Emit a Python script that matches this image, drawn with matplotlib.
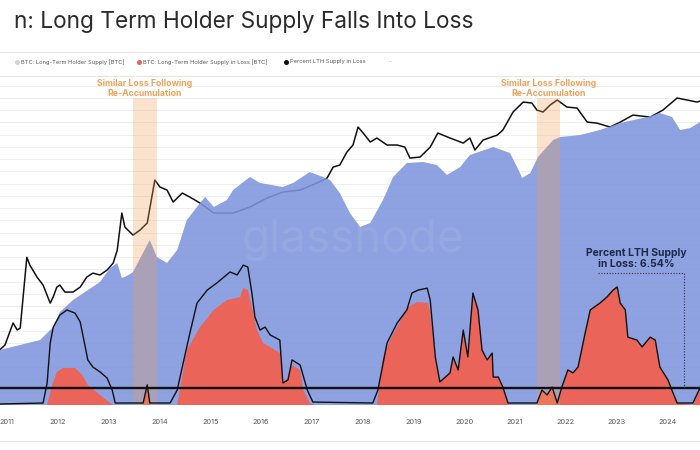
import matplotlib

matplotlib.use("Agg")
import matplotlib.pyplot as plt
import matplotlib.transforms as mtransforms
from matplotlib.lines import Line2D
from matplotlib.ticker import MultipleLocator, NullLocator

W, H = 700, 450
plt.rcParams["font.family"] = ["Inter", "DejaVu Sans"]

# BTC price (log axis, USD)
price_t = [2010.86, 2010.96, 2011.12, 2011.20, 2011.26, 2011.39, 2011.45, 2011.59, 2011.71, 2011.85,
           2011.91, 2011.98, 2012.04, 2012.14, 2012.30, 2012.44, 2012.57, 2012.69, 2012.83, 2012.97,
           2013.09, 2013.17, 2013.26, 2013.32, 2013.48, 2013.62, 2013.76, 2013.85, 2013.91, 2014.01,
           2014.15, 2014.27, 2014.45, 2014.60, 2014.80, 2015.07, 2015.45, 2015.78, 2016.12, 2016.43,
           2016.77, 2017.10, 2017.30, 2017.42, 2017.55, 2017.69, 2017.81, 2017.91, 2018.01, 2018.15,
           2018.28, 2018.48, 2018.68, 2018.83, 2018.93, 2019.13, 2019.33, 2019.48, 2019.72, 2019.98,
           2020.11, 2020.21, 2020.37, 2020.65, 2020.76, 2020.96, 2021.16, 2021.33, 2021.43, 2021.55,
           2021.69, 2021.83, 2022.02, 2022.22, 2022.42, 2022.61, 2022.87, 2023.07, 2023.32, 2023.66,
           2023.91, 2024.19, 2024.39, 2024.58, 2024.64]
price_usd = [0.27, 0.34, 1.0, 0.71, 0.78, 25, 17, 9.5, 6.4, 2.65,
             3.6, 5.8, 6.4, 4.55, 4.55, 5.8, 9.5, 11.5, 10.5, 13.4,
             18.8, 35.6, 218, 110, 74, 95, 134, 477, 1100, 780,
             673, 374, 581, 477, 356, 218, 218, 293, 455, 611,
             673, 948, 1213, 2080, 2290, 4335, 6110, 14750, 11000, 7080,
             8610, 6110, 6110, 5530, 3230, 3390, 5530, 11000, 8610, 6730,
             8610, 4780, 7800, 9960, 12730, 30750, 50200, 47800, 33900, 30750,
             43400, 55300, 39300, 37400, 18800, 17900, 14750, 18800, 26500, 24000,
             33900, 61100, 55300, 50200, 52500]

# Long-term holder supply (million BTC)
supply_t = [2010.86, 2011.65, 2011.91, 2012.04, 2012.30, 2012.83, 2013.03, 2013.17, 2013.26, 2013.36,
            2013.48, 2013.81, 2013.95, 2014.15, 2014.35, 2014.54, 2014.80, 2014.90, 2015.07, 2015.33,
            2015.45, 2015.78, 2015.98, 2016.43, 2016.63, 2016.96, 2017.22, 2017.36, 2017.55, 2017.75,
            2017.95, 2018.15, 2018.40, 2018.60, 2018.87, 2019.19, 2019.46, 2019.66, 2019.92, 2020.11,
            2020.57, 2020.90, 2021.04, 2021.14, 2021.30, 2021.45, 2021.75, 2021.89, 2022.28, 2022.67,
            2023.07, 2023.60, 2023.85, 2024.09, 2024.25, 2024.45, 2024.64]
supply_mbtc = [2.75, 3.25, 3.9, 4.65, 5.25, 6.15, 6.85, 7.1, 6.35, 6.45,
               6.65, 8.25, 7.4, 7.1, 7.75, 9.25, 10.1, 10.4, 9.9, 10.25,
               10.75, 11.4, 11.1, 10.9, 11.1, 11.65, 11.4, 11.25, 10.6, 9.6,
               8.9, 9.1, 10.25, 11.4, 12.1, 12.15, 12.0, 11.5, 11.9, 12.5,
               12.9, 12.6, 11.9, 11.35, 11.6, 12.4, 13.25, 13.4, 13.5, 13.75,
               14.1, 14.4, 14.6, 14.4, 13.75, 13.85, 14.15]

# Long-term holder supply in loss (million BTC)
loss_t = [2010.86, 2011.79, 2011.89, 2011.98, 2012.10, 2012.34, 2012.48, 2012.59, 2012.83, 2013.03,
          2013.09, 2013.68, 2013.76, 2013.81, 2014.35, 2014.54, 2014.80, 2015.07, 2015.33, 2015.59,
          2015.65, 2015.74, 2015.82, 2015.92, 2016.04, 2016.18, 2016.37, 2016.43, 2016.53, 2016.61,
          2016.77, 2016.83, 2016.96, 2017.06, 2018.28, 2018.40, 2018.54, 2018.68, 2018.87, 2019.07,
          2019.29, 2019.33, 2019.43, 2019.52, 2019.72, 2019.78, 2019.88, 2019.98, 2020.07, 2020.17,
          2020.27, 2020.35, 2020.45, 2020.55, 2020.57, 2020.67, 2020.76, 2020.86, 2020.90, 2021.43,
          2021.53, 2021.63, 2021.73, 2021.83, 2021.92, 2022.04, 2022.14, 2022.24, 2022.38, 2022.48,
          2022.67, 2022.81, 2022.93, 2023.01, 2023.07, 2023.17, 2023.22, 2023.40, 2023.50, 2023.66,
          2023.76, 2023.85, 2024.01, 2024.11, 2024.19, 2024.50, 2024.64]
loss_mbtc = [0, 0, 1.0, 1.65, 1.85, 1.85, 1.5, 1.0, 0.5, 0.1,
             0, 0, 1.0, 0, 0, 2.75, 3.9, 4.75, 5.25, 5.4,
             5.85, 5.75, 4.9, 3.75, 3.1, 2.9, 2.6, 1.1, 1.4, 2.0,
             1.75, 0.75, 0.1, 0, 0, 2.4, 3.25, 3.9, 4.85, 5.15,
             5.1, 4.6, 2.25, 1.15, 1.6, 2.4, 1.75, 3.75, 2.4, 5.6,
             4.75, 2.75, 2.25, 2.6, 1.4, 1.4, 0.9, 0.1, 0, 0,
             0.75, 0.5, 0.9, 0.1, 0.9, 1.75, 1.6, 1.9, 3.6, 4.75,
             5.1, 5.4, 5.75, 5.85, 5.1, 4.75, 3.4, 3.25, 2.9, 3.4,
             3.25, 1.9, 1.25, 0.6, 0.1, 0, 0.75]

# Percent of LTH supply in loss (%)
pct_t = [2010.86, 2011.71, 2011.79, 2011.85, 2011.91, 2012.04, 2012.18, 2012.34, 2012.44, 2012.54,
         2012.59, 2012.69, 2012.83, 2012.97, 2013.07, 2013.13, 2013.68, 2013.76, 2013.81, 2014.21,
         2014.35, 2014.45, 2014.60, 2014.74, 2014.94, 2015.13, 2015.39, 2015.53, 2015.65, 2015.74,
         2015.82, 2015.88, 2015.98, 2016.08, 2016.18, 2016.37, 2016.43, 2016.53, 2016.61, 2016.77,
         2016.91, 2017.02, 2018.20, 2018.30, 2018.48, 2018.68, 2018.87, 2018.97, 2019.09, 2019.27,
         2019.33, 2019.43, 2019.52, 2019.72, 2019.78, 2019.88, 2019.98, 2020.07, 2020.17, 2020.27,
         2020.35, 2020.45, 2020.55, 2020.57, 2020.67, 2020.76, 2020.86, 2021.43, 2021.53, 2021.63,
         2021.73, 2021.83, 2021.92, 2022.04, 2022.14, 2022.24, 2022.38, 2022.48, 2022.67, 2022.81,
         2022.93, 2023.01, 2023.07, 2023.17, 2023.22, 2023.40, 2023.50, 2023.66, 2023.76, 2023.85,
         2024.01, 2024.11, 2024.19, 2024.50, 2024.64]
pct_loss = [0, 0.4, 8.6, 24.9, 31.4, 36.3, 38.4, 37.1, 33.5, 23.3,
            18.0, 15.1, 13.1, 10.6, 5.7, 0.4, 0.4, 7.8, 0.4, 0.4,
            5.7, 15.1, 29.0, 41.2, 46.5, 49.4, 53.9, 52.7, 56.7, 55.9,
            45.3, 35.5, 30.2, 31.4, 28.2, 26.1, 8.6, 9.8, 18.0, 15.9,
            5.7, 0.8, 0.4, 5.7, 24.9, 33.1, 38.4, 45.3, 46.5, 47.3,
            42.4, 19.2, 9.0, 12.7, 19.2, 13.9, 30.2, 19.2, 45.3, 38.4,
            22.0, 18.0, 20.8, 11.0, 11.0, 6.9, 0.4, 0.4, 5.7, 3.7,
            6.9, 0.4, 6.9, 13.9, 12.7, 15.1, 29.0, 38.4, 41.2, 43.7,
            46.5, 47.8, 41.2, 38.4, 27.3, 26.1, 23.3, 27.3, 26.1, 15.1,
            9.8, 4.5, 0.4, 0.4, 6.5]

current_pct = 6.54
band_start = [2013.48, 2021.43]
band_end = [2013.95, 2021.89]
years = list(range(2011, 2025))

BLUE = "#7f94dc"
RED = "#eb645a"
ORANGE = "#f0a25a"
NAVY = "#1e2a4a"


def fx(px):
    return px / W


def fy(py):
    return 1 - py / H


def main():
    fig = plt.figure(figsize=(W / 100, H / 100), dpi=100)
    rect = [0, fy(405), 1, (405 - 78) / H]

    ax_grid = fig.add_axes(rect, zorder=0)
    ax_price = fig.add_axes(rect, zorder=1, sharex=ax_grid)
    ax_sup = fig.add_axes(rect, zorder=2, sharex=ax_grid)
    ax_pct = fig.add_axes(rect, zorder=3, sharex=ax_grid)

    for a in (ax_grid, ax_price, ax_sup, ax_pct):
        for s in a.spines.values():
            s.set_visible(False)
        a.tick_params(which="both", left=False, labelleft=False, bottom=False,
                      labelbottom=False)
    for a in (ax_price, ax_sup, ax_pct):
        a.patch.set_alpha(0)

    ax_grid.set_xlim(2010.862, 2024.64)
    ax_grid.set_ylim(-0.41, 133.1)
    ax_grid.yaxis.set_major_locator(MultipleLocator(5))
    ax_grid.grid(axis="y", color="#ececec", lw=0.6)
    ax_grid.set_xticks(years)
    ax_grid.set_xticklabels([str(y) for y in years])
    ax_grid.tick_params(labelbottom=True, pad=6.5, labelsize=5.3, labelcolor="#555555")

    # price line sits beneath the supply fill
    ax_price.set_yscale("log")
    ax_price.set_ylim(0.018, 1.63e5)
    ax_price.yaxis.set_minor_locator(NullLocator())
    ax_price.plot(price_t, price_usd, color="#111111", lw=1.1)

    ax_sup.set_ylim(0, 16.35)
    ax_sup.fill_between(supply_t, supply_mbtc, 0, color=BLUE, alpha=0.88, lw=0)
    ax_sup.fill_between(loss_t, loss_mbtc, 0, color=RED, lw=0)
    for a, b in zip(band_start, band_end):
        ax_sup.axvspan(a, b, ymin=0, ymax=0.94, color=ORANGE, alpha=0.3, lw=0)
    ax_sup.text(0.504, 0.505, "glassnode", transform=ax_sup.transAxes, ha="center",
                va="center", fontsize=33, color="white", alpha=0.08)

    ax_pct.set_ylim(-0.41, 133.1)
    ax_pct.plot(pct_t, pct_loss, color="#111111", lw=1.0)
    ax_pct.axhline(current_pct, color="#111111", lw=1.7)
    ax_pct.plot([2022.63, 2024.33, 2024.33], [53.5, 53.5, current_pct],
                color="#333333", lw=0.8, ls=(0, (1, 1.5)))
    ax_pct.text(2023.38, 59.4, "Percent LTH Supply\nin Loss: 6.54%", ha="center", va="center",
                fontsize=7.5, fontweight="bold", color=NAVY, linespacing=1.15)

    trans = mtransforms.blended_transform_factory(ax_pct.transData, ax_pct.transAxes)
    for a, b in zip(band_start, band_end):
        ax_pct.text((a + b) / 2, 0.968, "Similar Loss Following\nRe-Accumulation",
                    transform=trans, ha="center", va="center", fontsize=6.3,
                    fontweight="bold", color=ORANGE, linespacing=1.1)

    # header
    fig.text(fx(474), fy(28), "n: Long Term Holder Supply Falls Into Loss", ha="right",
             va="baseline", fontsize=16.3, color="#2b2b2b")
    for py in (52, 76, 441):
        fig.add_artist(Line2D([0, 1], [fy(py), fy(py)], transform=fig.transFigure,
                              color="#e6e6e6", lw=0.8))
    legend = [
        (17, "#d4d4d4", "BTC: Long-Term Holder Supply [BTC]"),
        (139, RED, "BTC: Long-Term Holder Supply in Loss [BTC]"),
        (286, "#111111", "Percent LTH Supply in Loss"),
    ]
    for px, col, label in legend:
        fig.add_artist(Line2D([fx(px)], [fy(62)], transform=fig.transFigure, marker="o",
                              ms=2.6, color=col, lw=0))
        fig.text(fx(px + 4), fy(62), label, ha="left", va="center", fontsize=4.1,
                 color="#555555")
    fig.text(fx(390), fy(62), "-", ha="center", va="center", fontsize=4.5, color="#bbbbbb")

    fig.savefig("out.png", dpi=100)
    plt.close(fig)


if __name__ == "__main__":
    main()
